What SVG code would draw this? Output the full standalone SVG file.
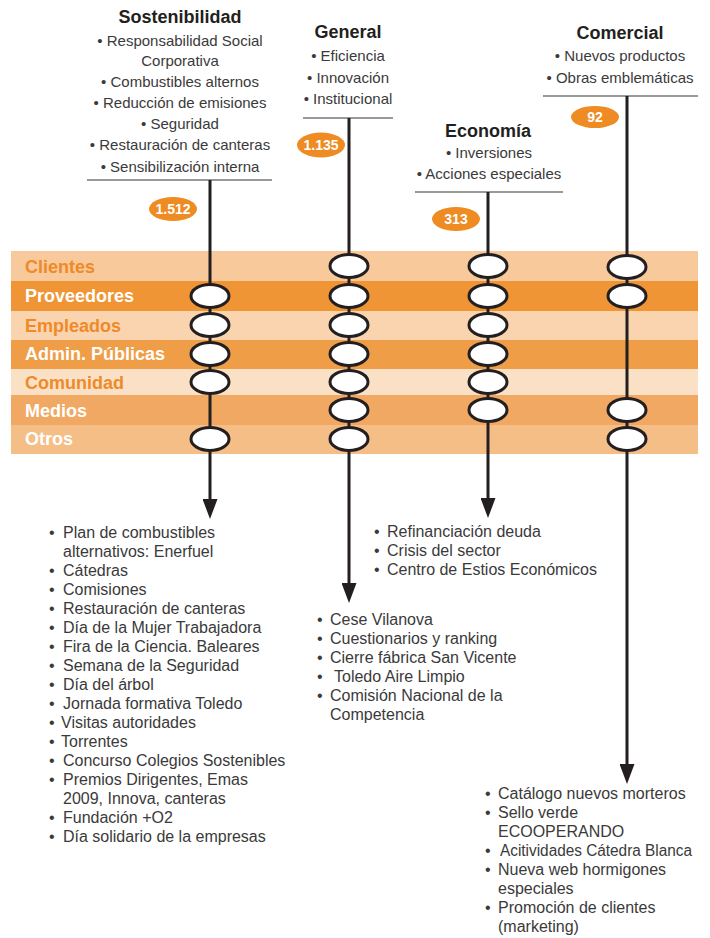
<svg xmlns="http://www.w3.org/2000/svg" width="710" height="938" viewBox="0 0 710 938">
<style>
.title{font-family:"Liberation Sans",Arial,sans-serif;font-weight:bold;font-size:18px;fill:#231f20;text-anchor:middle}
.hb{font-family:"Liberation Sans",Arial,sans-serif;font-size:15px;fill:#3a3a3a;text-anchor:middle}
.li{font-family:"Liberation Sans",Arial,sans-serif;font-size:16px;fill:#3a3a3a}
.band{font-family:"Liberation Sans",Arial,sans-serif;font-weight:bold;font-size:18px}
.bw{fill:#ffffff}
.bo{fill:#ee8a2a}
.badge{fill:#ee8b22}
.bt{font-family:"Liberation Sans",Arial,sans-serif;font-weight:bold;font-size:14px;fill:#ffffff;text-anchor:middle}
.hl{stroke:#777777;stroke-width:1.5}
.vl{stroke:#231f20;stroke-width:3;fill:none}
.node{fill:#ffffff;stroke:#231f20;stroke-width:3}
</style>
<defs>
<marker id="arr" markerUnits="userSpaceOnUse" viewBox="0 0 20 15" refX="0" refY="7.5" markerWidth="20" markerHeight="15" orient="auto">
<path d="M0,0 L20,7.5 L0,15 Z" fill="#231f20"/>
</marker>
</defs>

<g id="bands">
<g id="band-clientes"><rect x="11" y="251" width="687" height="30" fill="#f8c99b"/><text class="band bo" x="25" y="273">Clientes</text></g>
<g id="band-proveedores"><rect x="11" y="281" width="687" height="30" fill="#ef9535"/><text class="band bw" x="25" y="302">Proveedores</text></g>
<g id="band-empleados"><rect x="11" y="311" width="687" height="29" fill="#f9d4ae"/><text class="band bo" x="25" y="332">Empleados</text></g>
<g id="band-admin"><rect x="11" y="340" width="687" height="29" fill="#f09d48"/><text class="band bw" x="25" y="360">Admin. Públicas</text></g>
<g id="band-comunidad"><rect x="11" y="369" width="687" height="26" fill="#fae1c5"/><text class="band bo" x="25" y="389">Comunidad</text></g>
<g id="band-medios"><rect x="11" y="395" width="687" height="30" fill="#f1a862"/><text class="band bw" x="25" y="417">Medios</text></g>
<g id="band-otros"><rect x="11" y="425" width="687" height="29" fill="#f5be87"/><text class="band bw" x="25" y="445">Otros</text></g>
</g>

<g id="connectors">
<line class="hl" x1="87" y1="180" x2="272" y2="180"/>
<line class="hl" x1="303" y1="118" x2="393" y2="118"/>
<line class="hl" x1="415" y1="192" x2="563" y2="192"/>
<line class="hl" x1="543" y1="96" x2="698" y2="96"/>
<line class="vl" x1="210" y1="180" x2="210" y2="499" marker-end="url(#arr)"/>
<line class="vl" x1="349" y1="118" x2="349" y2="583" marker-end="url(#arr)"/>
<line class="vl" x1="488" y1="192" x2="488" y2="498" marker-end="url(#arr)"/>
<line class="vl" x1="627" y1="96" x2="627" y2="764" marker-end="url(#arr)"/>
</g>

<g id="header-sostenibilidad">
<text class="title" x="180" y="23">Sostenibilidad</text>
<text class="hb" x="180" y="46">• Responsabilidad Social</text>
<text class="hb" x="180" y="66">Corporativa</text>
<text class="hb" x="180" y="87">• Combustibles alternos</text>
<text class="hb" x="180" y="108">• Reducción de emisiones</text>
<text class="hb" x="180" y="129">• Seguridad</text>
<text class="hb" x="180" y="150">• Restauración de canteras</text>
<text class="hb" x="180" y="172">• Sensibilización interna</text>
</g>
<g id="header-general">
<text class="title" x="348" y="38">General</text>
<text class="hb" x="348" y="61">• Eficiencia</text>
<text class="hb" x="348" y="83">• Innovación</text>
<text class="hb" x="348" y="104">• Institucional</text>
</g>
<g id="header-economia">
<text class="title" x="488" y="137">Economía</text>
<text class="hb" x="489" y="158">• Inversiones</text>
<text class="hb" x="489" y="179">• Acciones especiales</text>
</g>
<g id="header-comercial">
<text class="title" x="620" y="39">Comercial</text>
<text class="hb" x="620" y="61">• Nuevos productos</text>
<text class="hb" x="620" y="83">• Obras emblemáticas</text>
</g>

<g id="badge-sostenibilidad"><ellipse class="badge" cx="173" cy="209" rx="24" ry="12"/><text class="bt" x="173" y="214">1.512</text></g>
<g id="badge-general"><ellipse class="badge" cx="321" cy="145" rx="24" ry="12.5"/><text class="bt" x="321" y="150">1.135</text></g>
<g id="badge-economia"><ellipse class="badge" cx="456" cy="219" rx="24" ry="12"/><text class="bt" x="456" y="224">313</text></g>
<g id="badge-comercial"><ellipse class="badge" cx="595" cy="117" rx="24" ry="11"/><text class="bt" x="595" y="122">92</text></g>

<g id="nodes-sostenibilidad">
<ellipse class="node" cx="210" cy="296" rx="19" ry="11.5"/>
<ellipse class="node" cx="210" cy="325" rx="19" ry="11.5"/>
<ellipse class="node" cx="210" cy="354" rx="19" ry="11.5"/>
<ellipse class="node" cx="210" cy="382" rx="19" ry="11.5"/>
<ellipse class="node" cx="210" cy="439" rx="19" ry="11.5"/>
</g>
<g id="nodes-general">
<ellipse class="node" cx="349" cy="266" rx="19" ry="11.5"/>
<ellipse class="node" cx="349" cy="296" rx="19" ry="11.5"/>
<ellipse class="node" cx="349" cy="325" rx="19" ry="11.5"/>
<ellipse class="node" cx="349" cy="354" rx="19" ry="11.5"/>
<ellipse class="node" cx="349" cy="382" rx="19" ry="11.5"/>
<ellipse class="node" cx="349" cy="410" rx="19" ry="11.5"/>
<ellipse class="node" cx="349" cy="439" rx="19" ry="11.5"/>
</g>
<g id="nodes-economia">
<ellipse class="node" cx="488" cy="266" rx="19" ry="11.5"/>
<ellipse class="node" cx="488" cy="296" rx="19" ry="11.5"/>
<ellipse class="node" cx="488" cy="325" rx="19" ry="11.5"/>
<ellipse class="node" cx="488" cy="354" rx="19" ry="11.5"/>
<ellipse class="node" cx="488" cy="382" rx="19" ry="11.5"/>
<ellipse class="node" cx="488" cy="410" rx="19" ry="11.5"/>
</g>
<g id="nodes-comercial">
<ellipse class="node" cx="627" cy="267" rx="19" ry="11.5"/>
<ellipse class="node" cx="627" cy="296" rx="19" ry="11.5"/>
<ellipse class="node" cx="627" cy="410" rx="19" ry="11.5"/>
<ellipse class="node" cx="627" cy="439" rx="19" ry="11.5"/>
</g>

<g id="list-sostenibilidad" class="li">
<text x="49" y="538">•</text><text x="63" y="538">Plan de combustibles</text>
<text x="63" y="557">alternativos: Enerfuel</text>
<text x="49" y="576">•</text><text x="63" y="576">Cátedras</text>
<text x="49" y="595">•</text><text x="63" y="595">Comisiones</text>
<text x="49" y="614">•</text><text x="63" y="614">Restauración de canteras</text>
<text x="49" y="633">•</text><text x="63" y="633">Día de la Mujer Trabajadora</text>
<text x="49" y="652">•</text><text x="63" y="652">Fira de la Ciencia. Baleares</text>
<text x="49" y="671">•</text><text x="63" y="671">Semana de la Seguridad</text>
<text x="49" y="690">•</text><text x="63" y="690">Día del árbol</text>
<text x="49" y="709">•</text><text x="63" y="709">Jornada formativa Toledo</text>
<text x="49" y="728">•</text><text x="61" y="728">Visitas autoridades</text>
<text x="49" y="747">•</text><text x="61" y="747">Torrentes</text>
<text x="49" y="766">•</text><text x="63" y="766">Concurso Colegios Sostenibles</text>
<text x="49" y="785">•</text><text x="63" y="785">Premios Dirigentes, Emas</text>
<text x="63" y="804">2009, Innova, canteras</text>
<text x="49" y="823">•</text><text x="63" y="823">Fundación +O2</text>
<text x="49" y="842">•</text><text x="63" y="842">Día solidario de la empresas</text>
</g>

<g id="list-general" class="li">
<text x="317" y="625">•</text><text x="330" y="625">Cese Vilanova</text>
<text x="317" y="644">•</text><text x="330" y="644">Cuestionarios y ranking</text>
<text x="317" y="663">•</text><text x="330" y="663">Cierre fábrica San Vicente</text>
<text x="317" y="682">•</text><text x="334" y="682">Toledo Aire Limpio</text>
<text x="317" y="701">•</text><text x="330" y="701">Comisión Nacional de la</text>
<text x="330" y="720">Competencia</text>
</g>

<g id="list-economia" class="li">
<text x="374" y="537">•</text><text x="387" y="537">Refinanciación deuda</text>
<text x="374" y="556">•</text><text x="387" y="556">Crisis del sector</text>
<text x="374" y="575">•</text><text x="387" y="575">Centro de Estios Económicos</text>
</g>

<g id="list-comercial" class="li">
<text x="485" y="799">•</text><text x="498" y="799">Catálogo nuevos morteros</text>
<text x="485" y="818">•</text><text x="498" y="818">Sello verde</text>
<text x="498" y="837">ECOOPERANDO</text>
<text x="485" y="856">•</text><text x="500" y="856" textLength="192" lengthAdjust="spacingAndGlyphs">Acitividades Cátedra Blanca</text>
<text x="485" y="875">•</text><text x="498" y="875">Nueva web hormigones</text>
<text x="498" y="894">especiales</text>
<text x="485" y="913">•</text><text x="498" y="913">Promoción de clientes</text>
<text x="498" y="932">(marketing)</text>
</g>
</svg>
